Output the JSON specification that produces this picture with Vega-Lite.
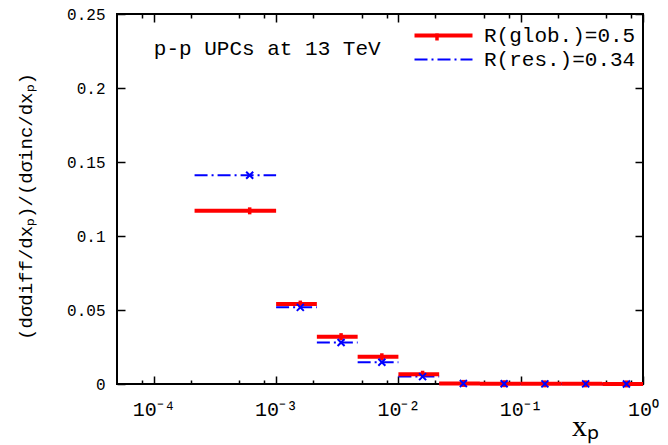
{
  "$schema": "https://vega.github.io/schema/vega-lite/v6.json",
  "width": 526,
  "height": 370,
  "autosize": "none",
  "padding": {"left": 117, "top": 14, "right": 25, "bottom": 61},
  "background": "white",
  "config": {"view": {"stroke": "black", "strokeWidth": 2}, "font": "Liberation Mono"},
  "data": {"values": [
    {"series": "R(res.)=0.34", "lo": 0.0002154, "hi": 0.001, "mid": 0.000608, "v": 0.141},
    {"series": "R(res.)=0.34", "lo": 0.001, "hi": 0.002154, "mid": 0.001577, "v": 0.0518},
    {"series": "R(res.)=0.34", "lo": 0.002154, "hi": 0.004642, "mid": 0.003398, "v": 0.028},
    {"series": "R(res.)=0.34", "lo": 0.004642, "hi": 0.01, "mid": 0.007321, "v": 0.0147},
    {"series": "R(res.)=0.34", "lo": 0.01, "hi": 0.02154, "mid": 0.01577, "v": 0.005},
    {"series": "R(res.)=0.34", "lo": 0.02154, "hi": 0.04642, "mid": 0.03398, "v": 0.0003},
    {"series": "R(res.)=0.34", "lo": 0.04642, "hi": 0.1, "mid": 0.07321, "v": 0.0002},
    {"series": "R(res.)=0.34", "lo": 0.1, "hi": 0.2154, "mid": 0.1577, "v": 0.0001},
    {"series": "R(res.)=0.34", "lo": 0.2154, "hi": 0.4642, "mid": 0.3398, "v": 0.0001},
    {"series": "R(res.)=0.34", "lo": 0.4642, "hi": 1, "mid": 0.7321, "v": 0.00005},
    {"series": "R(glob.)=0.5", "lo": 0.0002154, "hi": 0.001, "mid": 0.000608, "v": 0.117},
    {"series": "R(glob.)=0.5", "lo": 0.001, "hi": 0.002154, "mid": 0.001577, "v": 0.054},
    {"series": "R(glob.)=0.5", "lo": 0.002154, "hi": 0.004642, "mid": 0.003398, "v": 0.032},
    {"series": "R(glob.)=0.5", "lo": 0.004642, "hi": 0.01, "mid": 0.007321, "v": 0.0184},
    {"series": "R(glob.)=0.5", "lo": 0.01, "hi": 0.02154, "mid": 0.01577, "v": 0.0066},
    {"series": "R(glob.)=0.5", "lo": 0.02154, "hi": 0.04642, "mid": 0.03398, "v": 0.0004},
    {"series": "R(glob.)=0.5", "lo": 0.04642, "hi": 0.1, "mid": 0.07321, "v": 0.0002},
    {"series": "R(glob.)=0.5", "lo": 0.1, "hi": 0.2154, "mid": 0.1577, "v": 0.0001},
    {"series": "R(glob.)=0.5", "lo": 0.2154, "hi": 0.4642, "mid": 0.3398, "v": 0.0001},
    {"series": "R(glob.)=0.5", "lo": 0.4642, "hi": 1, "mid": 0.7321, "v": 0.00005}
  ]},
  "layer": [
    {
      "transform": [{"filter": "datum.series === 'R(res.)=0.34'"}],
      "mark": {"type": "rule", "strokeWidth": 2, "strokeDash": [13, 4, 2, 4]},
      "encoding": {
        "x": {"field": "lo", "type": "quantitative", "scale": {"type": "log", "domain": [0.00005, 1], "nice": false},
          "axis": {"orient": "bottom",
            "values": [0.0001, 0.001, 0.01, 0.1, 1],
            "labelExpr": "'10' + (round(log(datum.value)/LN10) < 0 ? '⁻' : '') + ['⁰','¹','²','³','⁴'][abs(round(log(datum.value)/LN10))]",
            "ticks": false, "tickSize": 0, "domain": false,
            "grid": true, "gridColor": "black", "gridWidth": 1.5, "gridOpacity": 1, "gridDash": [8, 354, 8, 100],
            "labelFont": "Liberation Mono", "labelFontSize": 20, "labelColor": "black", "labelPadding": 15,
            "labelFlush": false, "labelOverlap": false,
            "title": "xₚ", "titleFont": "Liberation Serif", "titleFontSize": 30, "titleFontWeight": "normal", "titleColor": "black",
            "titleX": 468, "titleY": 42, "titleAlign": "center", "titleBaseline": "middle"}},
        "x2": {"field": "hi"},
        "y": {"field": "v", "type": "quantitative", "scale": {"domain": [0, 0.25], "nice": false},
          "axis": {"orient": "left", "values": [0, 0.05, 0.1, 0.15, 0.2, 0.25], "format": "~g",
            "ticks": false, "tickSize": 0, "domain": false,
            "grid": true, "gridColor": "black", "gridWidth": 1.5, "gridOpacity": 1, "gridDash": [8, 510, 8, 100],
            "labelFont": "Liberation Mono", "labelFontSize": 16, "labelColor": "black", "labelPadding": 12,
            "title": "(dσdiff/dxₚ)/(dσinc/dxₚ)", "titleFont": "Liberation Mono", "titleFontSize": 19, "titleFontWeight": "normal", "titleColor": "black",
            "titleX": -92, "titleY": 192, "titleAlign": "center", "titleBaseline": "middle"}},
        "color": {"field": "series", "type": "nominal",
          "scale": {"domain": ["R(glob.)=0.5", "R(res.)=0.34"], "range": ["#ff0000", "#0000ff"]},
          "legend": {"orient": "none", "legendX": 316, "legendY": 11, "title": null, "symbolType": "stroke", "symbolSize": 3364,
            "labelFont": "Liberation Mono", "labelFontSize": 21, "labelColor": "black", "labelOffset": 30, "rowPadding": 2, "padding": 0,
            "encode": {"symbols": {"update": {
              "strokeWidth": {"signal": "datum.value === 'R(glob.)=0.5' ? 4 : 2"},
              "strokeDash": {"signal": "datum.value === 'R(glob.)=0.5' ? [1, 0] : [13, 4, 2, 4]"}}}}}}
      }
    },
    {
      "transform": [{"filter": "datum.series === 'R(glob.)=0.5'"}],
      "mark": {"type": "rule", "strokeWidth": 4},
      "encoding": {
        "x": {"field": "lo", "type": "quantitative", "axis": null},
        "x2": {"field": "hi"},
        "y": {"field": "v", "type": "quantitative", "axis": null},
        "color": {"field": "series", "type": "nominal"}
      }
    },
    {
      "transform": [{"filter": "datum.series === 'R(glob.)=0.5'"}],
      "mark": {"type": "point", "size": 49, "filled": true, "color": "#ff0000", "opacity": 1},
      "encoding": {
        "x": {"field": "mid", "type": "quantitative", "axis": null},
        "y": {"field": "v", "type": "quantitative", "axis": null},
        "shape": {"field": "series", "type": "nominal",
          "scale": {"range": ["M-0.5,-1H0.5V1H-0.5Z", "M-1,-1L1,1M-1,1L1,-1"]},
          "legend": {"orient": "none", "legendX": 315.5, "legendY": 18.5, "title": null, "symbolSize": 49,
            "labelExpr": "''", "labelFontSize": 1, "labelOffset": 0, "rowPadding": 16, "padding": 0,
            "encode": {"symbols": {"update": {
              "fill": {"signal": "datum.value === 'R(glob.)=0.5' ? '#ff0000' : 'transparent'"},
              "stroke": {"signal": "datum.value === 'R(glob.)=0.5' ? '#ff0000' : '#0000ff'"},
              "strokeWidth": {"signal": "datum.value === 'R(glob.)=0.5' ? 0.5 : 2"},
              "opacity": {"value": 1}}}}}}
      }
    },
    {
      "data": {"values": [{"label": "p-p UPCs at 13 TeV"}]},
      "mark": {"type": "text", "align": "left", "baseline": "middle", "font": "Liberation Mono", "fontSize": 21, "color": "black"},
      "encoding": {
        "text": {"field": "label"},
        "x": {"datum": 0.0001, "type": "quantitative", "axis": null},
        "y": {"datum": 0.2265, "type": "quantitative", "axis": null}
      }
    },
    {
      "transform": [{"filter": "datum.series === 'R(res.)=0.34'"}],
      "mark": {"type": "point", "size": 49, "filled": false, "color": "#0000ff", "strokeWidth": 2, "opacity": 1},
      "encoding": {
        "x": {"field": "mid", "type": "quantitative",
          "axis": {"orient": "top", "labels": false, "domain": false, "title": null, "ticks": false, "tickSize": 0,
            "values": [0.00008, 0.0002, 0.0005, 0.0008, 0.002, 0.005, 0.008, 0.02, 0.05, 0.08, 0.2, 0.5, 0.8],
            "grid": true, "gridColor": "black", "gridWidth": 1.5, "gridOpacity": 1, "gridDash": [4, 362, 4, 100]}},
        "y": {"field": "v", "type": "quantitative", "axis": null},
        "shape": {"field": "series", "type": "nominal"}
      }
    }
  ],
  "resolve": {"axis": {"x": "independent", "y": "independent"}}
}
